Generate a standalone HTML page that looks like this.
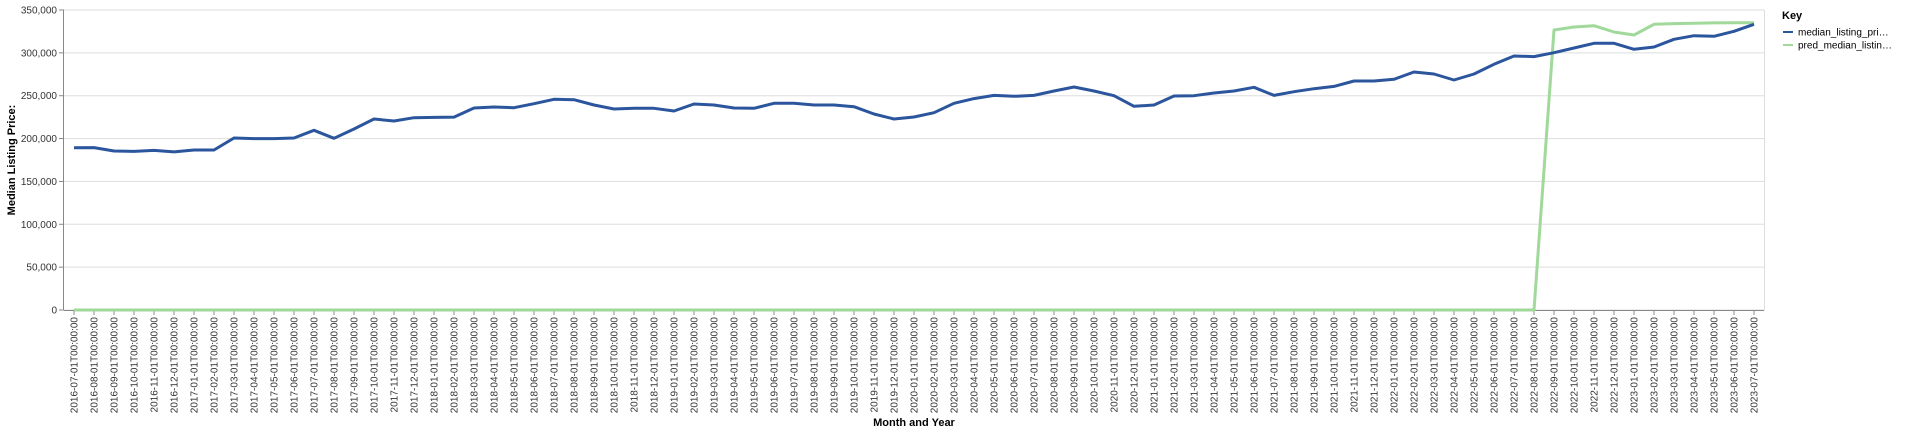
<!DOCTYPE html>
<html><head><meta charset="utf-8"><style>
html,body{margin:0;padding:0;background:#fff;}
svg{display:block;font-family:"Liberation Sans",Arial,sans-serif;}
</style></head><body>
<svg id="chart" width="1920" height="434" viewBox="0 0 1920 434" xmlns="http://www.w3.org/2000/svg"></svg>
<script>
const actualValues=[189300,189500,185500,185000,186200,184400,186700,186700,200700,200000,200000,200700,209600,200300,211200,222800,220500,224400,224700,225000,235700,236800,236000,240700,245800,245400,239200,234500,235300,235300,232200,240300,239200,235700,235300,241100,241100,239200,239200,237200,228700,222800,225200,230200,241100,246600,250400,249300,250400,255500,260200,255500,250000,237600,239200,249700,250000,253200,255500,259800,250400,254700,258200,260900,267200,267200,269100,277700,275300,268300,275300,286600,296300,295600,300200,305700,311100,311100,304100,306800,315800,320000,319300,325100,333300];
const predValues=[0,0,0,0,0,0,0,0,0,0,0,0,0,0,0,0,0,0,0,0,0,0,0,0,0,0,0,0,0,0,0,0,0,0,0,0,0,0,0,0,0,0,0,0,0,0,0,0,0,0,0,0,0,0,0,0,0,0,0,0,0,0,0,0,0,0,0,0,0,0,0,0,0,0,326700,330200,331700,324300,320800,333300,334100,334500,334900,335200,335200];
const yTicks=[0,50000,100000,150000,200000,250000,300000,350000];
const startYear=2016, startMonth=7, monthCount=85;
const categories=[];
for(let k=0;k<monthCount;k++){const m=startMonth-1+k;const y=startYear+Math.floor(m/12);const mm=(m%12)+1;categories.push(y+'-'+String(mm).padStart(2,'0')+'-01T00:00:00');}

const NS='http://www.w3.org/2000/svg';
const svg=document.getElementById('chart');
const L=64,R=1764,T=10,B=310,yMax=350000;
const step=(R-L)/categories.length;
const xs=i=>L+step*(i+0.5);
const ys=v=>B-(v/yMax)*(B-T);
function mk(tag,attrs,parent){const e=document.createElementNS(NS,tag);for(const k in attrs)e.setAttribute(k,attrs[k]);(parent||svg).appendChild(e);return e;}

const grid=mk('g',{});


yTicks.forEach(t=>{
  const l=mk('line',{x1:L,x2:R,y1:ys(t),y2:ys(t),stroke:'#ddd','stroke-width':1},grid);
  
  
});
const rb=mk('line',{x1:R+0.5,x2:R+0.5,y1:T,y2:B,stroke:'#ddd'});



const yAxis=mk('g',{});


mk('line',{x1:L-0.5,x2:L-0.5,y1:T,y2:B,stroke:'#888'},yAxis);
yTicks.forEach(t=>{
  mk('line',{x1:L-5,x2:L,y1:ys(t),y2:ys(t),stroke:'#888'},yAxis);
  const tx=mk('text',{x:L-7,y:ys(t)+3.5,'text-anchor':'end','font-size':10,fill:'#333'},yAxis);
  tx.textContent=t.toLocaleString('en-US');
  
  
});
const yt=mk('text',{x:0,y:0,transform:'translate(15,160) rotate(-90)','text-anchor':'middle','font-size':11,'font-weight':'bold',fill:'#000'});
yt.textContent='Median Listing Price:';



const xAxis=mk('g',{});


mk('line',{x1:L,x2:R,y1:B+0.5,y2:B+0.5,stroke:'#888'},xAxis);
categories.forEach((c,i)=>{
  mk('line',{x1:xs(i),x2:xs(i),y1:B,y2:B+5,stroke:'#888'},xAxis);
  const tx=mk('text',{x:0,y:0,transform:`translate(${xs(i)+3.5},${B+7}) rotate(-90)`,'text-anchor':'end','font-size':10,fill:'#333'},xAxis);
  tx.textContent=c;
  
  
});
const xt=mk('text',{x:(L+R)/2,y:426,'text-anchor':'middle','font-size':11,'font-weight':'bold',fill:'#000'});
xt.textContent='Month and Year';



function line(vals,color,name){
  const d=vals.map((v,i)=>(i?'L':'M')+xs(i).toFixed(1)+','+ys(v).toFixed(1)).join('');
  const p=mk('path',{d:d,fill:'none',stroke:color,'stroke-width':3,'stroke-linejoin':'round'});
  
  
}
line(predValues,'#a1d99b','pred-median-listing-price-line');
line(actualValues,'#2b559c','median-listing-price-line');

const lg=mk('g',{});


const lt=mk('text',{x:1782,y:19,'font-size':11,'font-weight':'bold',fill:'#000'},lg);
lt.textContent='Key';
[['median_listing_pri…','#2b559c',32],['pred_median_listin…','#a1d99b',45]].forEach(([t,c,y])=>{
  const g=mk('g',{},lg);
  
  
  mk('line',{x1:1783,x2:1793,y1:y,y2:y,stroke:c,'stroke-width':2},g);
  const tx=mk('text',{x:1798,y:y+3.5,'font-size':10,fill:'#000'},g);
  tx.textContent=t;
});
</script>
</body></html>
